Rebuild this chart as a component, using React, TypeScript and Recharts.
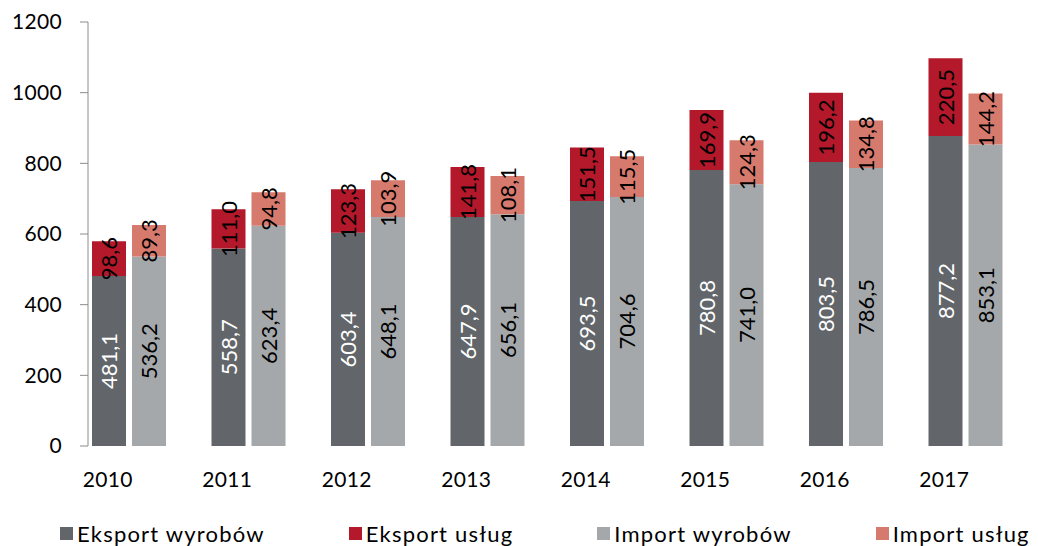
import React from 'react';
import { BarChart, Bar, XAxis, YAxis, Legend, LabelList } from 'recharts';

const years = ['2010', '2011', '2012', '2013', '2014', '2015', '2016', '2017'];
const eksportWyrobow = [481.1, 558.7, 603.4, 647.9, 693.5, 780.8, 803.5, 877.2];
const eksportUslug = [98.6, 111.0, 123.3, 141.8, 151.5, 169.9, 196.2, 220.5];
const importWyrobow = [536.2, 623.4, 648.1, 656.1, 704.6, 741.0, 786.5, 853.1];
const importUslug = [89.3, 94.8, 103.9, 108.1, 115.5, 124.3, 134.8, 144.2];
const yTicks = [0, 200, 400, 600, 800, 1000, 1200];

const data = years.map((year, i) => ({
    year,
    ew: eksportWyrobow[i],
    eu: eksportUslug[i],
    iw: importWyrobow[i],
    iu: importUslug[i],
}));

const series = [
    { key: 'ew', name: 'Eksport wyrobów', color: '#62666a', stack: 'e', text: '#ffffff' },
    { key: 'eu', name: 'Eksport usług', color: '#b3182b', stack: 'e', text: '#000000' },
    { key: 'iw', name: 'Import wyrobów', color: '#a5a8ab', stack: 'i', text: '#000000' },
    { key: 'iu', name: 'Import usług', color: '#d77a6e', stack: 'i', text: '#000000' },
];

const FONT = 'Lato, "Open Sans", sans-serif';

const fmt = (v: number) => v.toFixed(1).replace('.', ',');

const makeLabel = (fill: string) => (props: any) => {
    const { x, y, width, height, value } = props;
    const cx = x + width / 2;
    const cy = y + height / 2;
    return (
        <text
            x={cx}
            y={cy}
            transform={`rotate(-90 ${cx} ${cy})`}
            textAnchor="middle"
            dominantBaseline="central"
            fill={fill}
            fontSize={22}
            fontFamily={FONT}
        >
            {fmt(value)}
        </text>
    );
};

const YearTick = (props: any) => {
    const { x, y, payload } = props;
    return (
        <text x={x - 21} y={y} dy="0.71em" textAnchor="middle" fill="#000" fontSize={21} fontFamily={FONT} letterSpacing={0.3}>
            {payload.value}
        </text>
    );
};

const LegendBox = () => (
    <div style={{ position: 'relative', height: 26, width: 1038, fontFamily: FONT, fontSize: 22, color: '#000', whiteSpace: 'nowrap' }}>
        <div style={{ display: 'flex', paddingLeft: 60, gap: 84, height: 26, alignItems: 'center' }}>
            {series.map((s) => (
                <div key={s.key} style={{ display: 'flex', alignItems: 'center', flexShrink: 0 }}>
                    <span style={{ display: 'inline-block', width: 13, height: 13, background: s.color, marginRight: 4 }} />
                    <span style={{ letterSpacing: 1.2 }}>{s.name}</span>
                </div>
            ))}
        </div>
    </div>
);

export default function App() {
    return (
        <div style={{ position: 'absolute', left: 0, top: 0, width: 1038, height: 546, background: '#fff' }}>
            <BarChart width={1038} height={546} data={data} margin={{ top: 22, right: 13, bottom: 0, left: 0 }} barSize={34} barGap={6}>
                <XAxis
                    dataKey="year"
                    axisLine={false}
                    tickLine={false}
                    tickSize={0}
                    tickMargin={26}
                    height={74}
                    padding={{ left: -19, right: 0 }}
                    tick={<YearTick />}
                    interval={0}
                />
                <YAxis
                    domain={[0, 1200]}
                    ticks={yTicks}
                    width={88}
                    axisLine={{ stroke: '#8c8c8c' }}
                    tickLine={{ stroke: '#8c8c8c' }}
                    tickSize={8}
                    tickMargin={18}
                    tick={{ fill: '#000', fontSize: 21, fontFamily: FONT, letterSpacing: 0.3 }}
                    interval={0}
                />
                <Legend verticalAlign="bottom" height={26} wrapperStyle={{ left: 0, width: 1038 }} content={<LegendBox />} />
                {series.map((s) => (
                    <Bar key={s.key} dataKey={s.key} name={s.name} stackId={s.stack} fill={s.color} isAnimationActive={false}>
                        <LabelList dataKey={s.key} content={makeLabel(s.text)} />
                    </Bar>
                ))}
            </BarChart>
        </div>
    );
}
